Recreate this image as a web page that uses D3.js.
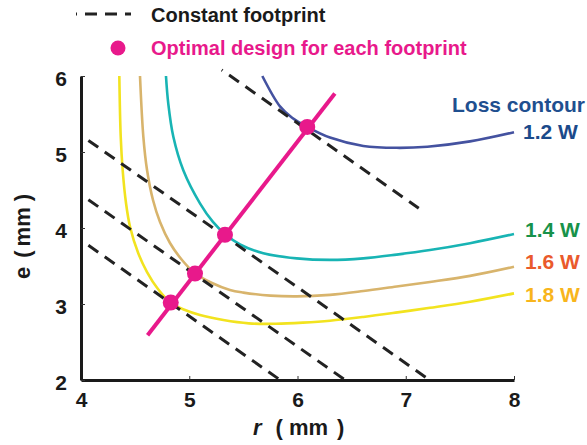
<!DOCTYPE html>
<html>
<head>
<meta charset="utf-8">
<script src="https://cdn.jsdelivr.net/npm/d3@7"></script>
<style>
  body { margin: 0; background: #fff; }
  text { font-family: "Liberation Sans", Arial, sans-serif; font-weight: bold; }
</style>
</head>
<body>
<div id="chart"></div>
<script>
// loss contours, points are [r, e] in mm
var loss12 = [[5.675, 6.0], [5.838, 5.60], [5.95, 5.45], [6.09, 5.33], [6.30, 5.19], [6.608, 5.08], [6.916, 5.055], [7.20, 5.07], [7.594, 5.14], [8.0, 5.26]];
var loss14 = [[4.785, 6.0], [4.806, 5.64], [4.853, 5.20], [4.945, 4.76], [5.099, 4.325], [5.219, 4.08], [5.33, 3.92], [5.469, 3.783], [5.684, 3.667], [5.993, 3.60], [6.30, 3.58], [6.608, 3.60], [6.916, 3.65], [7.224, 3.71], [7.594, 3.80], [8.0, 3.92]];
var loss16 = [[4.545, 6.0], [4.576, 5.20], [4.610, 4.763], [4.665, 4.368], [4.730, 4.079], [4.822, 3.803], [4.933, 3.579], [5.053, 3.404], [5.210, 3.276], [5.376, 3.184], [5.50, 3.15], [5.75, 3.11], [5.993, 3.10], [6.30, 3.12], [6.608, 3.17], [6.916, 3.23], [7.224, 3.29], [7.594, 3.37], [8.0, 3.49]];
var loss18 = [[4.354, 6.0], [4.367, 5.20], [4.385, 4.76], [4.416, 4.325], [4.453, 4.017], [4.529, 3.667], [4.610, 3.421], [4.711, 3.197], [4.829, 3.017], [4.961, 2.921], [5.099, 2.855], [5.315, 2.789], [5.55, 2.745], [5.80, 2.74], [6.05, 2.755], [6.30, 2.78], [6.608, 2.83], [6.924, 2.89], [7.224, 2.95], [7.594, 3.03], [8.0, 3.14]];

var contourLabels = ["1.2 W", "1.4 W", "1.6 W", "1.8 W"];
var contourColors = ["#4452a0", "#18b4b4", "#d8b46c", "#f2e31f"];
var labelColors = ["#1b4a8a", "#17924a", "#ea5a2c", "#f8b51c"];

// constant footprint lines: r + e = const, drawn between r start / r end
var footprintSums = [11.38, 9.22, 8.44, 7.84];
var footprintStart = [5.30, 4.0, 4.0, 4.0];
var footprintEnd = [7.12, 7.22, 6.44, 5.84];

// optimal design points and the line through them
var optimalR = [4.829, 5.053, 5.33, 6.09];
var optimalE = [3.02, 3.40, 3.91, 5.33];
var optimalLine = [[4.615, 2.59], [6.345, 5.77]];

var xTicks = [4, 5, 6, 7, 8];
var yTicks = [2, 3, 4, 5, 6];

var width = 587, height = 445;
var svg = d3.select("#chart").append("svg")
    .attr("width", width)
    .attr("height", height);

var x = d3.scaleLinear().domain([4, 8]).range([81, 514]);
var y = d3.scaleLinear().domain([2, 6]).range([380, 76]);

var line = d3.line()
    .x(function(d) { return x(d[0]); })
    .y(function(d) { return y(d[1]); })
    .curve(d3.curveCatmullRom.alpha(0.5));

// contours
var contours = [loss12, loss14, loss16, loss18];
svg.selectAll(".contour")
    .data(contours)
    .enter().append("path")
    .attr("class", "contour")
    .attr("d", line)
    .attr("fill", "none")
    .attr("stroke", function(d, i) { return contourColors[i]; })
    .attr("stroke-width", 2.6);

// dashed footprint lines
svg.selectAll(".footprint")
    .data(footprintSums)
    .enter().append("line")
    .attr("class", "footprint")
    .attr("x1", function(d, i) { return x(footprintStart[i]); })
    .attr("y1", function(d, i) { return y(d - footprintStart[i]); })
    .attr("x2", function(d, i) { return x(footprintEnd[i]); })
    .attr("y2", function(d, i) { return y(d - footprintEnd[i]); })
    .attr("stroke", "#222")
    .attr("stroke-width", 3)
    .attr("stroke-dasharray", "12,8")
    .attr("stroke-dashoffset", 11);

// optimal line + dots
svg.append("path")
    .attr("d", d3.line().x(function(d) { return x(d[0]); }).y(function(d) { return y(d[1]); })(optimalLine))
    .attr("stroke", "#e8198b")
    .attr("stroke-width", 4)
    .attr("fill", "none");

svg.selectAll(".opt")
    .data(optimalR)
    .enter().append("circle")
    .attr("class", "opt")
    .attr("cx", function(d) { return x(d); })
    .attr("cy", function(d, i) { return y(optimalE[i]); })
    .attr("r", 8)
    .attr("fill", "#e8198b");

// axes
var xAxis = svg.append("g")
    .attr("transform", "translate(0,380)")
    .call(d3.axisBottom(x).tickValues(xTicks).tickFormat(d3.format("d"))
        .tickSizeInner(-4).tickSizeOuter(0).tickPadding(12));
var yAxis = svg.append("g")
    .attr("transform", "translate(81,0)")
    .call(d3.axisLeft(y).tickValues(yTicks).tickFormat(d3.format("d"))
        .tickSizeInner(-4).tickSizeOuter(0).tickPadding(14));

[xAxis, yAxis].forEach(function(g) {
    g.select(".domain").attr("stroke", "#1a1a1a").attr("stroke-width", 3);
    g.selectAll(".tick line").attr("stroke", "#333").attr("stroke-width", 1);
    g.selectAll(".tick text")
        .attr("fill", "#1a1a1a")
        .style("font-size", "21px")
        .style("font-family", "'Liberation Sans', Arial, sans-serif")
        .style("font-weight", "bold");
});
yAxis.selectAll(".tick text").attr("dy", "0.45em");

// axis titles
var xt = svg.append("text")
    .attr("x", 253)
    .attr("y", 435)
    .attr("fill", "#1a1a1a")
    .style("font-size", "22px");
xt.append("tspan").text("r").style("font-style", "italic");
xt.append("tspan").attr("dx", 14).text("(");
xt.append("tspan").attr("dx", 6).text("mm");
xt.append("tspan").attr("dx", 9).text(")");

var yt = svg.append("text")
    .attr("transform", "translate(30,279) rotate(-90)")
    .attr("fill", "#1a1a1a")
    .style("font-size", "22px");
yt.append("tspan").text("e");
yt.append("tspan").attr("dx", 9).text("(");
yt.append("tspan").attr("dx", 4).text("mm");
yt.append("tspan").attr("dx", 6).text(")");

// contour labels
svg.append("text")
    .attr("x", 585)
    .attr("y", 112)
    .attr("text-anchor", "end")
    .attr("fill", "#1f4f8f")
    .style("font-size", "21px")
    .text("Loss contour");

var labelY = [139, 237, 269, 302];
svg.selectAll(".clabel")
    .data(contourLabels)
    .enter().append("text")
    .attr("class", "clabel")
    .attr("x", function(d, i) { return i == 0 ? 523 : 525; })
    .attr("y", function(d, i) { return labelY[i]; })
    .attr("fill", function(d, i) { return labelColors[i]; })
    .style("font-size", "21px")
    .text(function(d) { return d; });

// legend
svg.append("line")
    .attr("x1", 76).attr("y1", 14)
    .attr("x2", 131).attr("y2", 14)
    .attr("stroke", "#222")
    .attr("stroke-width", 3)
    .attr("stroke-dasharray", "12,8")
    .attr("stroke-dashoffset", 11);
svg.append("text")
    .attr("x", 151).attr("y", 22)
    .attr("fill", "#1a1a1a")
    .style("font-size", "20px")
    .text("Constant footprint");

svg.append("circle")
    .attr("cx", 118).attr("cy", 48)
    .attr("r", 7.5)
    .attr("fill", "#e8198b");
svg.append("text")
    .attr("x", 151).attr("y", 55)
    .attr("fill", "#e8198b")
    .style("font-size", "20px")
    .text("Optimal design for each footprint");
</script>
</body>
</html>
